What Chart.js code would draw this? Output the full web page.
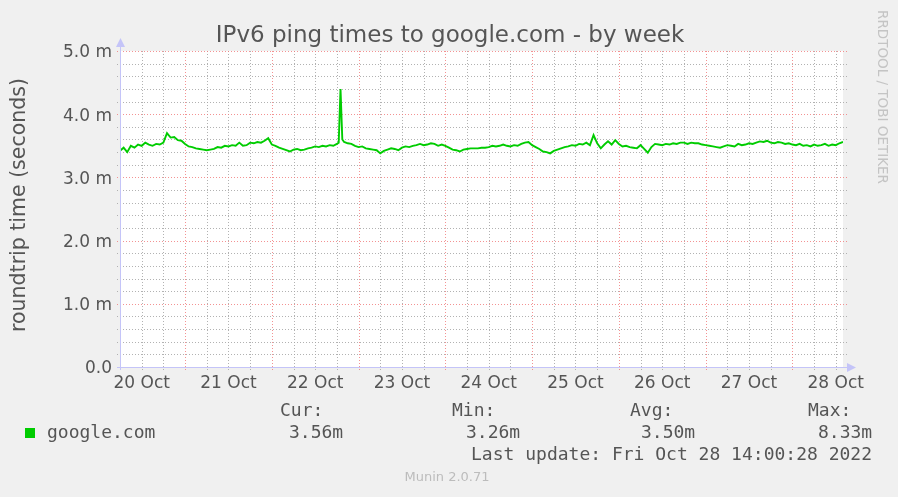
<!DOCTYPE html>
<html>
<head>
<meta charset="utf-8">
<title>IPv6 ping times to google.com - by week</title>
<script src="https://cdn.jsdelivr.net/npm/chart.js@4.4.0/dist/chart.umd.min.js"></script>
<style>
    html, body { margin: 0; padding: 0; background: #f0f0f0; }
    canvas { display: block; }
</style>
</head>
<body>
<canvas id="pingChart" width="898" height="497"></canvas>
<script>
// hours counted from 20 Oct 00:00
const hours = [
    6, 7, 8, 9, 10, 11, 12, 13, 14, 15, 16, 17, 18, 19, 20, 21, 22, 23, 24, 25, 26, 27, 28, 29, 30,
    31, 32, 33, 34, 35, 36, 37, 38, 39, 40, 41, 42, 43, 44, 45, 46, 47, 48, 49, 50, 51, 52, 53, 54, 55,
    56, 57, 58, 59, 60, 61, 62, 63, 64, 65, 66, 66.5, 67, 67.5, 68, 69, 70, 71, 72, 73, 74,
    75, 76, 77, 78, 79, 80, 81, 82, 83, 84, 85, 86, 87, 88, 89, 90, 91, 92, 93, 94, 95, 96, 97, 98, 99,
    100, 101, 102, 103, 104, 105, 106, 107, 108, 109, 110, 111, 112, 113, 114, 115, 116, 117, 118, 119,
    120, 121, 122, 123, 124, 125, 126, 127, 128, 129, 130, 131, 132, 133, 134, 135, 136, 137, 138, 139,
    140, 141, 142, 143, 144, 145, 146, 147, 148, 149, 150, 151, 152, 153, 154, 155, 156, 157, 158, 159,
    160, 161, 162, 163, 164, 165, 166, 167, 168, 169, 170, 171, 172, 173, 174, 175, 176, 177, 178, 179,
    180, 181, 182, 183, 184, 185, 186, 187, 188, 189, 190, 191, 192, 193, 194, 195, 196, 197, 198, 199,
    200, 201, 202, 203, 204, 205, 206
];

// roundtrip time in milliseconds
const pingMs = [
    3.42, 3.47, 3.40, 3.50, 3.47, 3.52, 3.50, 3.55, 3.52, 3.50, 3.53, 3.52, 3.55, 3.70, 3.63, 3.64, 3.59, 3.58,
    3.53, 3.49, 3.48, 3.46, 3.45, 3.44, 3.43, 3.44, 3.45, 3.48, 3.47, 3.50, 3.49, 3.51, 3.50, 3.55, 3.50,
    3.51, 3.55, 3.54, 3.56, 3.55, 3.58, 3.62, 3.52, 3.50, 3.47, 3.45, 3.43, 3.41, 3.44, 3.45, 3.43, 3.44,
    3.46, 3.47, 3.49, 3.48, 3.50, 3.49, 3.51, 3.50, 3.53,
    3.55, 4.40, 3.60,
    3.56, 3.54, 3.53, 3.50, 3.48, 3.49, 3.46,
    3.45, 3.44, 3.43, 3.38, 3.42, 3.44, 3.46, 3.45, 3.43, 3.47, 3.49, 3.48, 3.50, 3.51, 3.53, 3.51, 3.52,
    3.54, 3.53, 3.50, 3.52, 3.50, 3.47, 3.44, 3.43, 3.41, 3.44, 3.45, 3.46, 3.46, 3.46, 3.47, 3.47, 3.48, 3.50,
    3.49, 3.50, 3.52, 3.50, 3.49, 3.51, 3.50, 3.53, 3.55, 3.56, 3.51, 3.48, 3.45, 3.41, 3.40, 3.38, 3.42,
    3.44, 3.46, 3.48, 3.49, 3.51, 3.50, 3.53, 3.52, 3.55, 3.51, 3.67, 3.54, 3.46, 3.52, 3.57, 3.52, 3.59, 3.53,
    3.49, 3.50, 3.48, 3.47, 3.46, 3.51, 3.45, 3.39, 3.48, 3.53, 3.52, 3.51, 3.53, 3.52, 3.54, 3.53, 3.55,
    3.55, 3.53, 3.55, 3.54, 3.54, 3.52, 3.51, 3.50, 3.49, 3.48, 3.47, 3.49, 3.51, 3.50, 3.49, 3.53, 3.51,
    3.52, 3.54, 3.53, 3.55, 3.57, 3.56, 3.58, 3.55, 3.54, 3.56, 3.55, 3.53, 3.54, 3.52, 3.51, 3.53, 3.50,
    3.51, 3.49, 3.52, 3.50, 3.51, 3.53, 3.50, 3.52, 3.51, 3.54, 3.56
];

const dayLabels = ['20 Oct', '21 Oct', '22 Oct', '23 Oct', '24 Oct', '25 Oct', '26 Oct', '27 Oct', '28 Oct'];
const yTickLabels = ['0.0', '1.0 m', '2.0 m', '3.0 m', '4.0 m', '5.0 m'];
const legendHeads = ['Cur:', 'Min:', 'Avg:', 'Max:'];
const legendValues = ['3.56m', '3.26m', '3.50m', '8.33m'];
const seriesName = 'google.com';
const lastUpdate = 'Last update: Fri Oct 28 14:00:28 2022';

const isWhole = v => Math.abs(v - Math.round(v)) < 1e-6;

// rrdtool look: background, dotted grid, arrowed axes, legend block
const muninLook = {
    id: 'muninLook',
    beforeDraw(chart) {
        const { ctx, chartArea: a } = chart;
        ctx.save();
        ctx.fillStyle = '#f0f0f0';
        ctx.fillRect(0, 0, chart.width, chart.height);
        ctx.fillStyle = '#ffffff';
        ctx.fillRect(a.left, a.top, a.right - a.left, a.bottom - a.top);
        ctx.restore();
    },
    beforeDatasetsDraw(chart) {
        const { ctx, chartArea: a, scales } = chart;
        const xs = scales.x, ys = scales.y;
        ctx.save();
        ctx.lineWidth = 1;
        ctx.setLineDash([1, 2]);
        // minor first, major (red) on top
        [false, true].forEach(major => {
            ctx.strokeStyle = major ? 'rgba(240,120,120,0.8)' : 'rgba(165,165,165,0.85)';
            xs.ticks.forEach(t => {
                if ((t.value % 24 === 0) !== major) return;
                const px = Math.round(xs.getPixelForValue(t.value)) + 0.5;
                ctx.beginPath();
                ctx.moveTo(px, a.top);
                ctx.lineTo(px, a.bottom + 4);
                ctx.stroke();
            });
            ys.ticks.forEach(t => {
                if (isWhole(t.value) !== major) return;
                const py = Math.round(ys.getPixelForValue(t.value)) + 0.5;
                ctx.beginPath();
                ctx.moveTo(a.left - 3, py);
                ctx.lineTo(a.right + 4, py);
                ctx.stroke();
            });
        });
        ctx.restore();
    },
    afterDatasetsDraw(chart) {
        const { ctx, chartArea: a } = chart;
        const axisColor = '#c4c4f8';
        const x0 = Math.round(a.left) + 0.5;
        const y0 = Math.round(a.bottom) + 0.5;
        ctx.save();
        ctx.strokeStyle = axisColor;
        ctx.fillStyle = axisColor;
        ctx.lineWidth = 1;
        ctx.beginPath();
        ctx.moveTo(x0, a.bottom + 3);
        ctx.lineTo(x0, a.top - 8);
        ctx.moveTo(a.left - 3, y0);
        ctx.lineTo(a.right + 6, y0);
        ctx.stroke();
        // arrow heads
        ctx.beginPath();
        ctx.moveTo(x0, a.top - 13);
        ctx.lineTo(x0 - 4.5, a.top - 4);
        ctx.lineTo(x0 + 4.5, a.top - 4);
        ctx.closePath();
        ctx.fill();
        ctx.beginPath();
        ctx.moveTo(a.right + 13, y0);
        ctx.lineTo(a.right + 4, y0 - 4.5);
        ctx.lineTo(a.right + 4, y0 + 4.5);
        ctx.closePath();
        ctx.fill();
        ctx.restore();
    },
    afterDraw(chart) {
        const { ctx } = chart;
        ctx.save();
        ctx.textBaseline = 'middle';

        // title
        ctx.fillStyle = '#555555';
        ctx.textAlign = 'center';
        ctx.font = '23px "DejaVu Sans"';
        ctx.fillText('IPv6 ping times to google.com - by week', 450, 36);

        // y axis title
        ctx.save();
        ctx.translate(20, 205);
        ctx.rotate(-Math.PI / 2);
        ctx.font = '20.5px "DejaVu Sans"';
        ctx.fillText('roundtrip time (seconds)', 0, 0);
        ctx.restore();

        // watermark on the right
        ctx.save();
        ctx.translate(881, 97);
        ctx.rotate(Math.PI / 2);
        ctx.fillStyle = '#c4c4c4';
        ctx.font = '13.5px "DejaVu Sans"';
        ctx.fillText('RRDTOOL / TOBI OETIKER', 0, 0);
        ctx.restore();

        // legend block
        ctx.textAlign = 'left';
        ctx.font = '18px "DejaVu Sans Mono"';
        ctx.fillStyle = '#555555';
        const headX = [280, 452, 630, 808];
        const valX = [289, 466, 641, 818];
        legendHeads.forEach((h, i) => ctx.fillText(h, headX[i], 411));
        legendValues.forEach((v, i) => ctx.fillText(v, valX[i], 433));
        ctx.fillText(seriesName, 47, 433);
        ctx.fillStyle = '#00cc00';
        ctx.fillRect(25, 428, 10, 10);
        ctx.fillStyle = '#555555';
        ctx.textAlign = 'right';
        ctx.fillText(lastUpdate, 872, 455);

        ctx.textAlign = 'center';
        ctx.fillStyle = '#bcbcbc';
        ctx.font = '13px "DejaVu Sans"';
        ctx.fillText('Munin 2.0.71', 447, 478);
        ctx.restore();
    }
};

const ctx = document.getElementById('pingChart').getContext('2d');

new Chart(ctx, {
    type: 'line',
    data: {
        datasets: [{
            label: seriesName,
            data: hours.map((h, i) => ({ x: h, y: pingMs[i] })),
            borderColor: '#00cc00',
            borderWidth: 1.9,
            pointRadius: 0,
            tension: 0,
            fill: false
        }]
    },
    options: {
        responsive: false,
        animation: false,
        layout: {
            padding: { left: 0, top: 51, right: 55, bottom: 100 }
        },
        plugins: {
            legend: { display: false },
            title: { display: false },
            tooltip: { enabled: false }
        },
        scales: {
            x: {
                type: 'linear',
                min: 6,
                max: 206,
                grid: { display: false, drawTicks: false },
                border: { display: false },
                ticks: {
                    stepSize: 6,
                    maxTicksLimit: 60,
                    includeBounds: false,
                    autoSkip: false,
                    maxRotation: 0,
                    padding: 6,
                    color: '#555555',
                    font: { family: 'DejaVu Sans', size: 17 },
                    callback: v => (v % 24 === 12) ? dayLabels[(v - 12) / 24] : ''
                },
                afterFit: scale => { scale.height = 30; }
            },
            y: {
                min: 0,
                max: 5,
                grid: { display: false, drawTicks: false },
                border: { display: false },
                ticks: {
                    stepSize: 0.2,
                    maxTicksLimit: 60,
                    autoSkip: false,
                    padding: 8,
                    labelOffset: 2,
                    color: '#555555',
                    font: { family: 'DejaVu Sans', size: 17 },
                    callback: v => isWhole(v) ? yTickLabels[Math.round(v)] : ''
                },
                afterFit: scale => { scale.width = 120; }
            }
        }
    },
    plugins: [muninLook]
});
</script>
</body>
</html>
